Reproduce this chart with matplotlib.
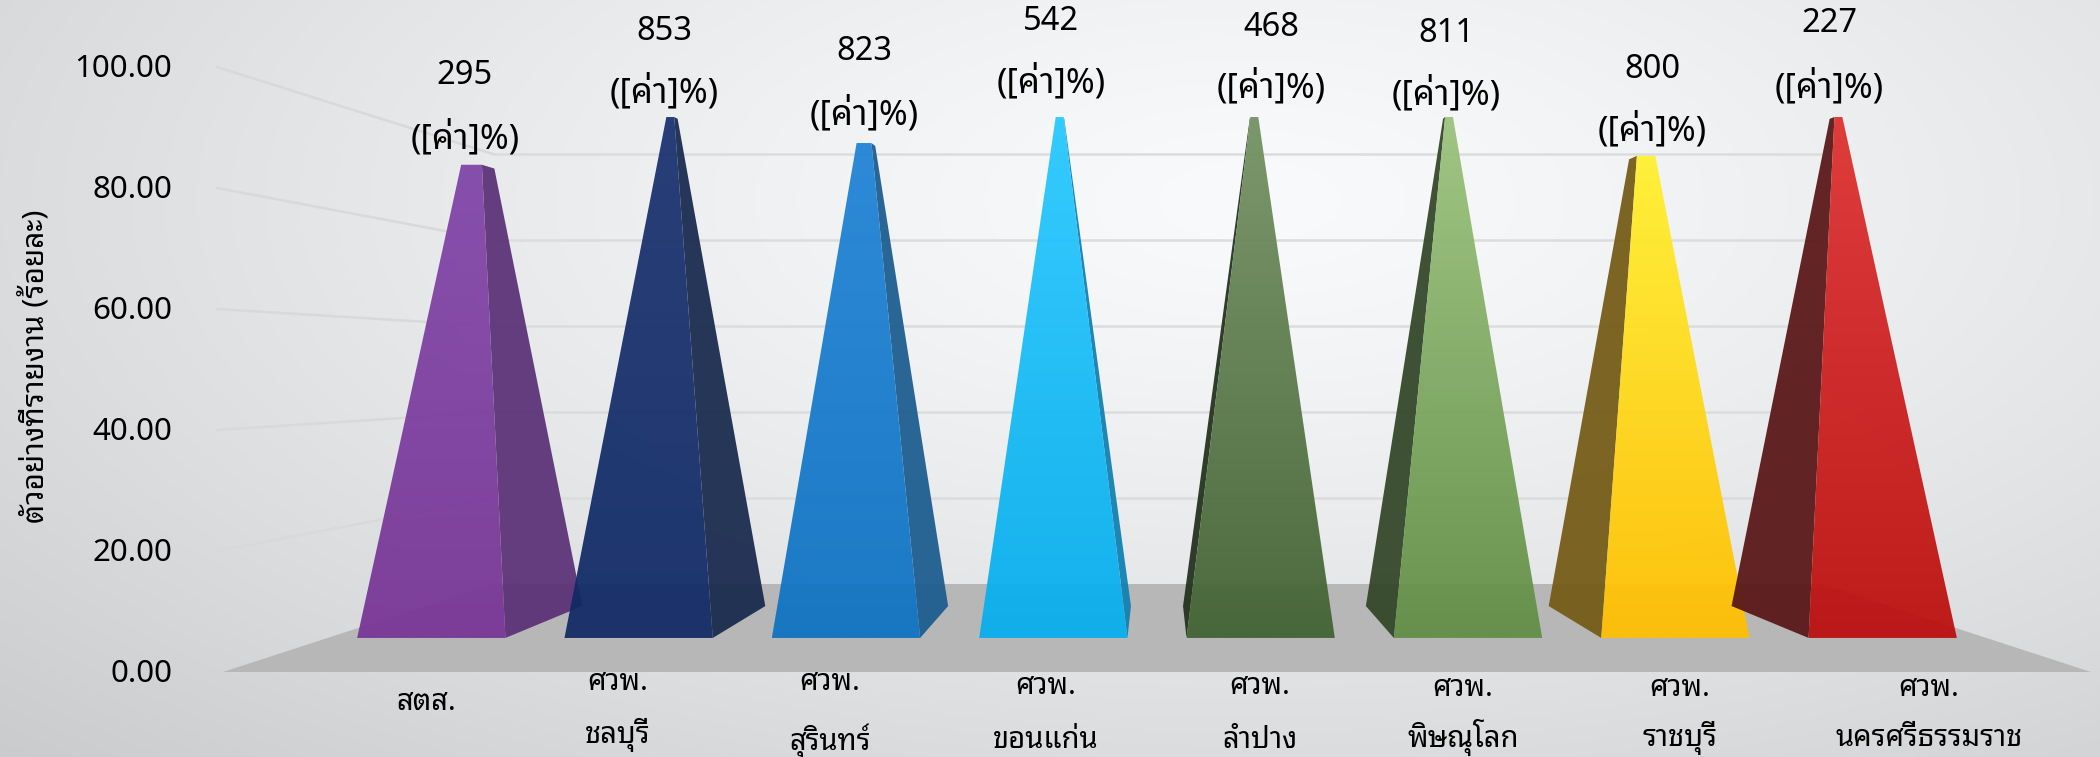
import numpy as np
import matplotlib
matplotlib.use('Agg')
import matplotlib.pyplot as plt
from matplotlib.patches import Polygon
from matplotlib.colors import to_rgb

# values
values = [90.3, 100, 94.7, 100, 100, 100, 92.1, 100]
counts = ['295', '853', '823', '542', '468', '811', '800', '227']
names = [['สตส.'], ['ศวพ.', 'ชลบุรี'], ['ศวพ.', 'สุรินทร์'], ['ศวพ.', 'ขอนแก่น'],
         ['ศวพ.', 'ลำปาง'], ['ศวพ.', 'พิษณุโลก'], ['ศวพ.', 'ราชบุรี'], ['ศวพ.', 'นครศรีธรรมราช']]
yticks = [0, 20, 40, 60, 80, 100]
ylabel = 'ตัวอย่างที่รายงาน (ร้อยละ)'
pct_label = '([ค่า]%)'

# colours
face_top = ['#8145a8', '#193270', '#1f83d6', '#27c8ff', '#739162', '#9bc27c', '#fff02e', '#de3030']
face_bot = ['#773596', '#112a65', '#0e72c2', '#06aeee', '#416232', '#618e45', '#ffbf00', '#bc0e0e']
side_col = ['#5a3076', '#17284c', '#1a5b8e', '#0e7fb0', '#212f1c', '#314526', '#735a14', '#581416']

# hand placed labels (x, y of count, y of percent)
label_x = [465, 664, 864, 1051, 1271, 1446, 1652, 1829]
label_y1 = [76, 31, 51, 21, 27, 33, 69, 24]
label_y2 = [138, 92, 114, 82, 87, 94, 130, 87]
name_x = [426, 618, 830, 1046, 1260, 1463, 1680, 1929]
name_y1 = [703, 683, 683, 686, 687, 688, 688, 688]
name_y2 = [None, 735, 741, 741, 741, 738, 738, 738]

# perspective set up, in picture pixels
VPX, VPY = 1157, 368
FRONT_H = 304
UNIT = 6.05
HALF_W = 934
K = 0.4075
APEX = 106
D_F, D_C, D_B = 0.3095, 0.5, 0.68


def project(x, v, d):
    s = 1.0 / (1.0 + K * d)
    return VPX + x * s, VPY + (FRONT_H - UNIT * v) * s


def corner(x0, hw, dbase, v):
    # base corner pulled up the edge to the apex, cut at value v
    t = v / APEX
    return project(x0 + hw * (1 - t), v, dbase + (D_C - dbase) * t)


def gradient_poly(ax, pts, top, bot, alpha, zorder):
    xs = [p[0] for p in pts]
    ys = [p[1] for p in pts]
    n = 64
    c = np.linspace(to_rgb(top), to_rgb(bot), n)
    img = np.dstack([c[:, 0:1], c[:, 1:2], c[:, 2:3], np.full((n, 1), alpha)])
    im = ax.imshow(img, extent=[min(xs), max(xs), max(ys), min(ys)], aspect='auto',
                   interpolation='bilinear', zorder=zorder)
    patch = Polygon(pts, closed=True, transform=ax.transData, facecolor='none', edgecolor='none')
    ax.add_patch(patch)
    im.set_clip_path(patch)


def make_plot():
    plt.rcParams['font.family'] = ['Noto Sans Thai Looped', 'Noto Sans Thai', 'Noto Sans', 'DejaVu Sans']

    fig = plt.figure(figsize=(21, 7.57), dpi=100)
    ax = fig.add_axes([0, 0, 1, 1])

    # background
    yy, xx = np.mgrid[0:757, 0:2100]
    dist = np.sqrt(((xx - 1250) / 1250.0) ** 2 + ((yy - 200) / 560.0) ** 2)
    shade = (250 - 30 * dist ** 1.3) / 255.0
    bg = np.dstack([shade - 0.004, shade, shade + 0.004]).clip(0, 1)
    ax.imshow(bg, extent=[0, 2100, 757, 0], aspect='auto', zorder=0)

    # grid on the back wall and on the left wall
    for v in yticks[1:]:
        bl = project(-HALF_W, v, 1)
        br = project(HALF_W, v, 1)
        ax.plot([bl[0], br[0]], [bl[1], br[1]], color='#dcdcdc', lw=1.8, zorder=1)
        fl = project(-HALF_W - 6, v, 0)
        ax.plot([fl[0], bl[0]], [fl[1], bl[1]], color='#d9d9d9', lw=1.8, zorder=1)

    # floor
    floor = [project(-HALF_W, 0, 0), project(HALF_W, 0, 0), project(HALF_W, 0, 1), project(-HALF_W, 0, 1)]
    ax.add_patch(Polygon(floor, closed=True, facecolor='#b7b7b7', edgecolor='none', zorder=2))

    # truncated pyramids
    step = 2.0 * HALF_W / len(values)
    hw = 83.5
    for i, v in enumerate(values):
        xc = -HALF_W + step * (i + 0.5)
        fl0 = project(xc - hw, 0, D_F)
        fr0 = project(xc + hw, 0, D_F)
        fl1 = corner(xc, -hw, D_F, v)
        fr1 = corner(xc, hw, D_F, v)
        z = 3 + i * 0.1
        if xc < 0:
            side = [fr0, project(xc + hw, 0, D_B), corner(xc, hw, D_B, v), fr1]
        else:
            side = [fl0, project(xc - hw, 0, D_B), corner(xc, -hw, D_B, v), fl1]
        ax.add_patch(Polygon(side, closed=True, facecolor=side_col[i], edgecolor='none', alpha=0.93, zorder=z))
        gradient_poly(ax, [fl0, fr0, fr1, fl1], face_top[i], face_bot[i], 0.94, z + 0.01)

        ax.text(label_x[i], label_y1[i], counts[i], fontsize=23.5, ha='center', va='center', color='black', zorder=10)
        ax.text(label_x[i], label_y2[i], pct_label, fontsize=25, ha='center', va='center', color='black', zorder=10)

        ax.text(name_x[i], name_y1[i], names[i][0], fontsize=21, ha='center', va='center', color='black', zorder=10)
        if len(names[i]) > 1:
            ax.text(name_x[i], name_y2[i], names[i][1], fontsize=21, ha='center', va='center', color='black', zorder=10)

    # value axis
    for v in yticks:
        y = project(-HALF_W, v, 0)[1] + 2
        ax.text(172, y, '%.2f' % v, fontsize=22.5, ha='right', va='center', color='black')
    ax.text(36, 366, ylabel, fontsize=21.5, rotation=90, ha='center', va='center', color='black')

    ax.set_xlim(0, 2100)
    ax.set_ylim(757, 0)
    ax.axis('off')
    fig.savefig('out.png', dpi=100)
    plt.close(fig)


if __name__ == '__main__':
    make_plot()
